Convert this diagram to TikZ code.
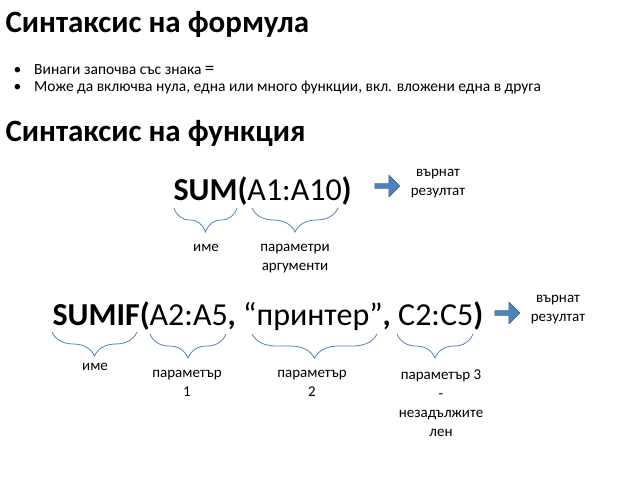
\documentclass[tikz,border=0pt]{standalone}
\usepackage{fontspec}
\setmainfont{Carlito}
\usetikzlibrary{decorations.pathreplacing,shapes.arrows}
\definecolor{bracecol}{RGB}{79,129,189}
\definecolor{arrowcol}{RGB}{79,129,189}
\tikzset{
  title/.style={anchor=west,font=\bfseries\fontsize{31}{34}\selectfont},
  bullet/.style={anchor=west,font=\fontsize{15.5}{17}\selectfont},
  formula/.style={anchor=base west,font=\fontsize{32}{36}\selectfont},
  lbl/.style={align=center,font=\fontsize{15}{19}\selectfont,anchor=north,inner sep=0pt},
  brc/.style={draw=bracecol,thick,decorate,decoration={brace,mirror,amplitude=24pt}},
  res/.style={single arrow,fill=arrowcol,draw=arrowcol!70!black,minimum height=25pt,
    minimum width=22pt,single arrow head extend=4pt,inner sep=1pt}
}
\begin{document}
\begin{tikzpicture}[x=1pt,y=-1pt]
  \useasboundingbox (0,0) rectangle (638,479);
  \node[title] (t1) at (2,24) {Синтаксис на формула};
  \node[bullet] (b1) at (10,70) {•\hspace{13pt}Винаги започва със знака \fontsize{19}{19}\selectfont=};
  \node[bullet] (b2) at (10,88) {•\hspace{13pt}Може да включва нула, една или много функции, вкл. вложени една в друга};
  \node[title] (t2) at (2,133) {Синтаксис на функция};
  % SUM
  \node[formula] (f1) at (170,200) {\textbf{SUM(}A1:A10\textbf{)}};
  \node[res] (a1) at (386,186) {};
  \node[lbl] (r1) at (438,169) {върнат\\резултат};
  \draw[brc] (174,208) -- (237,208) coordinate[midway] (c1);
  \draw[brc] (252,208) -- (338,208) coordinate[midway] (c2);
  \node[lbl] (n1) at (206,244) {име};
  \node[lbl] (n2) at (295,244) {параметри\\аргументи};
  % SUMIF
  \node[formula] (f2) at (49,325) {\textbf{SUMIF(}A2:A5\textbf{,} “принтер"\textbf{,} C2:C5\textbf{)}};
  \node[res] (a2) at (506,313) {};
  \node[lbl] (r2) at (558,295) {върнат\\резултат};
  \draw[brc] (52,332) -- (137,332) coordinate[midway] (c3);
  \draw[brc] (150,334) -- (226,334) coordinate[midway] (c4);
  \draw[brc] (252,334) -- (377,334) coordinate[midway] (c5);
  \draw[brc] (397,334) -- (473,334) coordinate[midway] (c6);
  \node[lbl] (n3) at (95,363) {име};
  \node[lbl] (n4) at (187,370) {параметър\\1};
  \node[lbl] (n5) at (312,370) {параметър\\2};
  \node[lbl] (n6) at (441,370) {параметър 3\\-\\незадължите\\лен};
\end{tikzpicture}
\end{document}
